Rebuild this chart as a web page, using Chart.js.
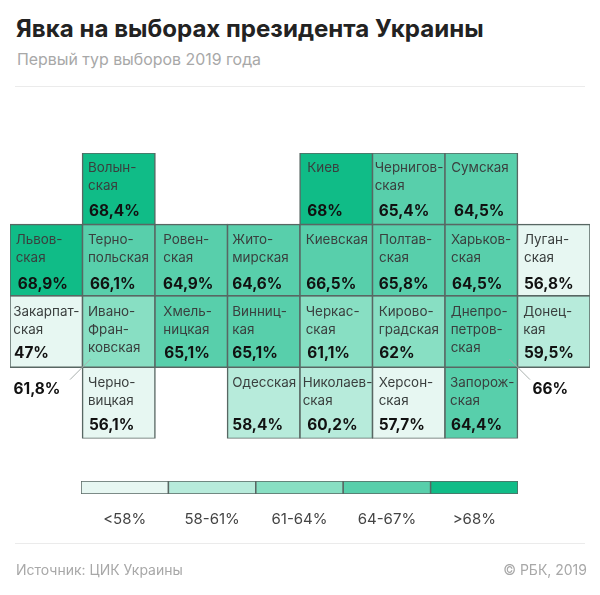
<!DOCTYPE html>
<html lang="ru">
<head>
<meta charset="utf-8">
<title>Явка на выборах президента Украины</title>
<script src="https://cdn.jsdelivr.net/npm/chart.js@4"></script>
<style>
  html, body { margin: 0; padding: 0; background: #fff; }
  body { position: relative; width: 600px; height: 595px; overflow: hidden; font-family: Inter, sans-serif; }
  canvas { position: absolute; left: 0; }
  .txt { position: absolute; white-space: nowrap; line-height: 1; }
  #title { left: 16px; top: 17px; font-size: 24.1px; font-weight: 700; color: #222; }
  #subtitle { left: 17px; top: 52px; font-size: 15.9px; color: #a8a8a8; }
  #source { left: 16px; top: 563px; font-size: 14px; color: #a8a8a8; }
  #copy { right: 13px; top: 563px; font-size: 14px; color: #a8a8a8; }
  .rule { position: absolute; left: 15px; width: 570px; height: 1px; background: #ebebeb; }
</style>
</head>
<body>
<div class="txt" id="title">Явка на выборах президента Украины</div>
<div class="txt" id="subtitle">Первый тур выборов 2019 года</div>
<div class="rule" style="top:86px"></div>
<canvas id="tileChart" width="600" height="595" style="top:0"></canvas>
<canvas id="legendChart" width="600" height="70" style="top:470px"></canvas>
<div class="rule" style="top:543px"></div>
<div class="txt" id="source">Источник: ЦИК Украины</div>
<div class="txt" id="copy">© РБК, 2019</div>

<script>
// Regions, reading order of the tile map
const regions = [
  'Волын-\nская', 'Киев', 'Чернигов-\nская', 'Сумская',
  'Львов-\nская', 'Терно-\nпольская', 'Ровен-\nская', 'Жито-\nмирская', 'Киевская', 'Полтав-\nская', 'Харьков-\nская', 'Луган-\nская',
  'Закарпат-\nская', 'Ивано-\nФран-\nковская', 'Хмель-\nницкая', 'Винниц-\nкая', 'Черкас-\nская', 'Кирово-\nградская', 'Днепро-\nпетров-\nская', 'Донец-\nкая',
  'Черно-\nвицкая', 'Одесская', 'Николаев-\nская', 'Херсон-\nская', 'Запорож-\nская'
];
const turnout = [
  68.4, 68, 65.4, 64.5,
  68.9, 66.1, 64.9, 64.6, 66.5, 65.8, 64.5, 56.8,
  47, 61.8, 65.1, 65.1, 61.1, 62, 66, 59.5,
  56.1, 58.4, 60.2, 57.7, 64.4
];
const gridCol = [
  1, 4, 5, 6,
  0, 1, 2, 3, 4, 5, 6, 7,
  0, 1, 2, 3, 4, 5, 6, 7,
  1, 3, 4, 5, 6
];
const gridRow = [
  0, 0, 0, 0,
  1, 1, 1, 1, 1, 1, 1, 1,
  2, 2, 2, 2, 2, 2, 2, 2,
  3, 3, 3, 3, 3
];
const columnLabels = ['0', '1', '2', '3', '4', '5', '6', '7'];

// Legend
const bucketLabels = ['<58%', '58-61%', '61-64%', '64-67%', '>68%'];
const bucketFloors = [0, 58, 61, 64, 67];
const bucketColors = ['#E7F7F2', '#B7EBDB', '#88DFC3', '#58CFAB', '#10BC87'];

// Text layout: inset of name and value from the left edge of the tile
const nameInset = [
  5.5, 7.3, 2.2, 6.3,
  5.7, 5.5, 8.3, 4.8, 5.7, 6.5, 6, 6.5,
  3.3, 5.5, 8.3, 4.8, 5.7, 6.2, 5.7, 5.8,
  5.5, 4.8, 2.7, 6.2, 5
];
const valueInset = [
  6.5, 7.3, 6.2, 9,
  7.7, 7.5, 8, 4.8, 6.3, 6.2, 7, 6.5,
  4, 0, 9.3, 4.8, 7.3, 6.8, 0, 6.5,
  6.5, 4.8, 7.3, 6.2, 6
];
const nameTop = [14.7, 16, 16.7, 15.7];
const valueTop = [58.7, 60, 58, 58];

// These two do not fit inside their tiles and are pulled out with a line
const callouts = [
  { region: 'Ивано-\nФран-\nковская', corner: 'left' },
  { region: 'Днепро-\nпетров-\nская', corner: 'right' }
];

const borderColor = '#586763';

function bucketOf(v) {
  let b = 0;
  bucketFloors.forEach((f, i) => { if (v >= f) b = i; });
  return b;
}

function formatValue(v) {
  return String(v).replace('.', ',') + '%';
}

// one dataset per grid row, so a column can hold several tiles
const rowDatasets = [0, 1, 2, 3].map(r => {
  const idx = regions.map((_, i) => i).filter(i => gridRow[i] === r);
  return {
    label: 'row' + r,
    data: idx.map(i => ({ x: columnLabels[gridCol[i]], y: [r, r + 1] })),
    backgroundColor: idx.map(i => bucketColors[bucketOf(turnout[i])]),
    borderColor: borderColor,
    borderWidth: 1.5,
    borderSkipped: false,
    inflateAmount: 0.75
  };
});

const tileText = {
  id: 'tileText',
  afterDatasetsDraw(chart) {
    const { ctx, scales: { x, y } } = chart;
    const half = (x.getPixelForValue(1) - x.getPixelForValue(0)) / 2;
    const outside = callouts.map(c => c.region);
    ctx.save();
    ctx.textAlign = 'left';
    ctx.textBaseline = 'middle';
    regions.forEach((name, i) => {
      const left = x.getPixelForValue(gridCol[i]) - half;
      const top = y.getPixelForValue(gridRow[i]);
      ctx.font = '13.4px Inter';
      ctx.fillStyle = '#3a3f3e';
      name.split('\n').forEach((line, n) => {
        ctx.fillText(line, left + nameInset[i], top + nameTop[gridRow[i]] + n * 18);
      });
      if (!outside.includes(name)) {
        ctx.font = '700 15.4px Inter';
        ctx.fillStyle = '#111';
        ctx.fillText(formatValue(turnout[i]), left + valueInset[i], top + valueTop[gridRow[i]]);
      }
    });

    callouts.forEach(c => {
      const i = regions.indexOf(c.region);
      const left = x.getPixelForValue(gridCol[i]) - half;
      const right = left + half * 2;
      const bottom = y.getPixelForValue(gridRow[i] + 1);
      const isLeft = c.corner === 'left';
      const edge = isLeft ? left : right;
      const dir = isLeft ? 1 : -1;
      ctx.strokeStyle = '#a9b0ae';
      ctx.lineWidth = 1;
      ctx.beginPath();
      ctx.moveTo(edge + dir * 8, bottom - 8);
      ctx.lineTo(edge - dir * 12.5, bottom + 12.5);
      ctx.stroke();
      ctx.font = '700 15.4px Inter';
      ctx.fillStyle = '#111';
      ctx.fillText(formatValue(turnout[i]), isLeft ? left - 69 : right + 15, bottom + 22);
    });
    ctx.restore();
  }
};

new Chart(document.getElementById('tileChart').getContext('2d'), {
  type: 'bar',
  data: { labels: columnLabels, datasets: rowDatasets },
  plugins: [tileText],
  options: {
    responsive: false,
    animation: false,
    events: [],
    grouped: false,
    barPercentage: 1,
    categoryPercentage: 1,
    layout: { padding: { left: 10, right: 10, top: 153, bottom: 156.5 } },
    plugins: { legend: { display: false }, tooltip: { enabled: false } },
    scales: {
      x: { display: false },
      y: { display: false, reverse: true, min: 0, max: 4 }
    }
  }
});

new Chart(document.getElementById('legendChart').getContext('2d'), {
  type: 'bar',
  data: {
    labels: bucketLabels,
    datasets: [{
      data: bucketLabels.map(() => [0, 1]),
      backgroundColor: bucketColors,
      borderColor: borderColor,
      borderWidth: 1.5,
      borderSkipped: false,
      inflateAmount: 0.75
    }]
  },
  options: {
    responsive: false,
    animation: false,
    events: [],
    barPercentage: 1,
    categoryPercentage: 1,
    layout: { padding: { left: 81, right: 82, top: 11, bottom: 0 } },
    plugins: { legend: { display: false }, tooltip: { enabled: false } },
    scales: {
      x: {
        afterFit(scale) { scale.height = 46; },
        grid: { display: false },
        border: { display: false },
        ticks: { color: '#444', font: { family: 'Inter', size: 15 }, padding: 8, maxRotation: 0, autoSkip: false }
      },
      y: { display: false, min: 0, max: 1 }
    }
  }
});
</script>
</body>
</html>
